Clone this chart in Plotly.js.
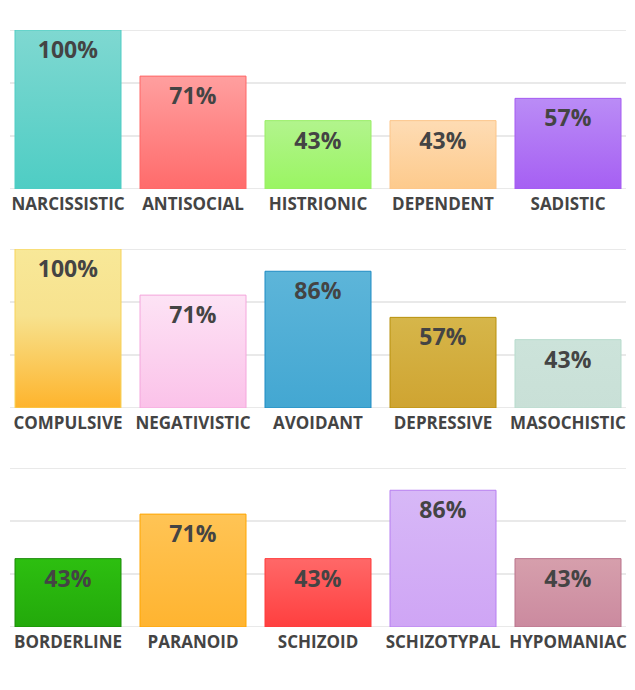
<!DOCTYPE html>
<html>
<head>
<meta charset="utf-8">
<script src="https://cdn.plot.ly/plotly-3.0.1.min.js"></script>
<style>
html,body{margin:0;padding:0;background:#fff;}
#chart{width:635px;height:690px;}
</style>
</head>
<body>
<div id="chart"></div>
<script>
// ---- data ----
var row1Categories = ["NARCISSISTIC", "ANTISOCIAL", "HISTRIONIC", "DEPENDENT", "SADISTIC"];
var row1Values = [100, 71, 43, 43, 57];
var row2Categories = ["COMPULSIVE", "NEGATIVISTIC", "AVOIDANT", "DEPRESSIVE", "MASOCHISTIC"];
var row2Values = [100, 71, 86, 57, 43];
var row3Categories = ["BORDERLINE", "PARANOID", "SCHIZOID", "SCHIZOTYPAL", "HYPOMANIAC"];
var row3Values = [43, 71, 43, 86, 43];
var gridValues = [0, 100 / 3, 200 / 3, 100];

// ---- styles ----
var row1Top = ["#7fd8d1", "#ff9f9f", "#b2f48d", "#fedcb4", "#ba8cf6"];
var row1Bottom = ["#4ecdc4", "#ff6b6b", "#9af562", "#fdca8c", "#a65ff3"];
var row1Line = ["#4ecdc4", "#ff6666", "#99ee66", "#fcc589", "#a55bf2"];
var row2Top = ["#f8e898", "#fde3f5", "#5db5d9", "#d6b64a", "#cce3da"];
var row2Bottom = ["#feb42c", "#fbc2e9", "#43a7d2", "#cfa431", "#c9e0d7"];
var row2Line = ["#f7d35a", "#f4a6dc", "#1e8bc3", "#b8900c", "#b7dccd"];
var row3Top = ["#2dbf10", "#ffc455", "#ff6868", "#d7b8f7", "#d69fac"];
var row3Bottom = ["#23a90b", "#ffb430", "#ff3f3f", "#cfa5f5", "#cb8a9f"];
var row3Line = ["#1b8a08", "#ffa500", "#ff3a3a", "#b67ef0", "#b9738b"];

var rows = [
  {cats: row1Categories, vals: row1Values, top: row1Top, bottom: row1Bottom, line: row1Line},
  {cats: row2Categories, vals: row2Values, top: row2Top, bottom: row2Bottom, line: row2Line},
  {cats: row3Categories, vals: row3Values, top: row3Top, bottom: row3Bottom, line: row3Line}
];

var font = "'Open Sans', 'Noto Sans', sans-serif";
var H = 690, W = 635;
var plotTops = [30, 249, 468];
var plotH = 159;
var gridColor = "#e9e9e9";

var traces = [];
var shapes = [];
var layout = {
  width: W, height: H,
  margin: {l: 0, r: 0, t: 0, b: 0},
  paper_bgcolor: "#ffffff",
  plot_bgcolor: "#ffffff",
  showlegend: false,
  bargap: 0.152,
  font: {family: font, color: "#444444"}
};

rows.forEach(function (r, i) {
  var n = i === 0 ? "" : String(i + 1);
  traces.push({
    type: "bar",
    x: r.cats,
    y: r.vals,
    xaxis: "x" + n,
    yaxis: "y" + n,
    marker: {color: r.bottom, line: {color: r.line, width: 1}},
    text: r.vals.map(function (v) { return v + "%"; }),
    texttemplate: "%{text}",
    textposition: "inside",
    insidetextanchor: "end",
    constraintext: "none",
    textangle: 0,
    textfont: {family: font, size: 23, color: "#444444", weight: "bold"},
    hoverinfo: "none",
    cliponaxis: false
  });
  var top = plotTops[i];
  layout["xaxis" + n] = {
    domain: [10 / W, 626 / W],
    anchor: "y" + n,
    type: "category",
    range: [-0.464, 4.464],
    showgrid: false,
    zeroline: false,
    showline: false,
    ticks: "",
    ticklabelstandoff: 3,
    tickfont: {family: font, size: 17, color: "#444444", weight: "bold"},
    fixedrange: true
  };
  layout["yaxis" + n] = {
    domain: [1 - (top + plotH) / H, 1 - top / H],
    anchor: "x" + n,
    range: [0, 100],
    tickvals: gridValues,
    showticklabels: false,
    showgrid: true,
    gridcolor: gridColor,
    gridwidth: 2,
    zeroline: false,
    showline: false,
    ticks: "",
    fixedrange: true
  };
  // edge gridlines (Plotly drops grid lines lying on the plot edges)
  [gridValues[0], gridValues[gridValues.length - 1]].forEach(function (gv) {
    shapes.push({
      type: "line", layer: "below",
      xref: "x" + n + " domain", yref: "y" + n,
      x0: 0, x1: 1, y0: gv, y1: gv,
      line: {color: gridColor, width: 2}
    });
  });
});
layout.shapes = shapes;

Plotly.newPlot("chart", traces, layout, {staticPlot: true, displayModeBar: false}).then(function (gd) {
  var svg = gd.querySelector(".main-svg");
  var defs = svg.querySelector("defs");
  var NS = "http://www.w3.org/2000/svg";
  var traceGroups = gd.querySelectorAll(".barlayer .trace");
  traceGroups.forEach(function (tg) {
    var cd = tg.__data__;
    if (!cd || !cd[0]) return;
    var ti = cd[0].trace.index;
    var r = rows[ti];
    var pts = tg.querySelectorAll(".point");
    pts.forEach(function (pt, j) {
      var path = pt.querySelector("path");
      if (!path) return;
      var id = "grad_" + ti + "_" + j;
      var lg = document.createElementNS(NS, "linearGradient");
      lg.setAttribute("id", id);
      lg.setAttribute("x1", "0"); lg.setAttribute("y1", "0");
      lg.setAttribute("x2", "0"); lg.setAttribute("y2", "1");
      var stops = (ti === 1 && j === 0)
        ? [[0, r.top[j]], [0.42, "#f7e28e"], [1, r.bottom[j]]]
        : [[0, r.top[j]], [1, r.bottom[j]]];
      stops.forEach(function (s) {
        var st = document.createElementNS(NS, "stop");
        st.setAttribute("offset", s[0]);
        st.setAttribute("stop-color", s[1]);
        lg.appendChild(st);
      });
      defs.appendChild(lg);
      path.style.fill = "url(#" + id + ")";
    });
  });
});
</script>
</body>
</html>
